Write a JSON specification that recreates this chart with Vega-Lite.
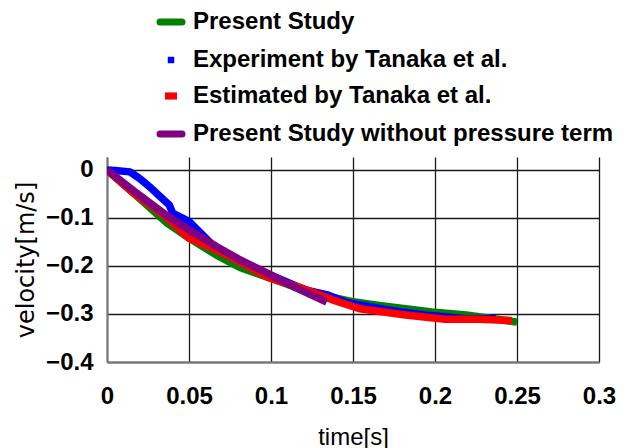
{
  "$schema": "https://vega.github.io/schema/vega-lite/v6.json",
  "width": 492,
  "height": 205,
  "autosize": "none",
  "padding": {"left": 107, "top": 157, "right": 31, "bottom": 86},
  "background": "white",
  "data": {
    "values": [
      {"series": "Present Study", "t": 0, "v": 0},
      {"series": "Present Study", "t": 0.016, "v": -0.048},
      {"series": "Present Study", "t": 0.036, "v": -0.109},
      {"series": "Present Study", "t": 0.05, "v": -0.142},
      {"series": "Present Study", "t": 0.067, "v": -0.178},
      {"series": "Present Study", "t": 0.081, "v": -0.203},
      {"series": "Present Study", "t": 0.1, "v": -0.226},
      {"series": "Present Study", "t": 0.117, "v": -0.247},
      {"series": "Present Study", "t": 0.137, "v": -0.265},
      {"series": "Present Study", "t": 0.149, "v": -0.274},
      {"series": "Present Study", "t": 0.166, "v": -0.282},
      {"series": "Present Study", "t": 0.198, "v": -0.296},
      {"series": "Present Study", "t": 0.219, "v": -0.302},
      {"series": "Present Study", "t": 0.25, "v": -0.317},
      {"series": "Experiment  by Tanaka et al.", "t": 0, "v": 0},
      {"series": "Experiment  by Tanaka et al.", "t": 0.005, "v": -0.001},
      {"series": "Experiment  by Tanaka et al.", "t": 0.014, "v": -0.004},
      {"series": "Experiment  by Tanaka et al.", "t": 0.02, "v": -0.018},
      {"series": "Experiment  by Tanaka et al.", "t": 0.026, "v": -0.035},
      {"series": "Experiment  by Tanaka et al.", "t": 0.032, "v": -0.054},
      {"series": "Experiment  by Tanaka et al.", "t": 0.038, "v": -0.073},
      {"series": "Experiment  by Tanaka et al.", "t": 0.04, "v": -0.09},
      {"series": "Experiment  by Tanaka et al.", "t": 0.05, "v": -0.107},
      {"series": "Experiment  by Tanaka et al.", "t": 0.067, "v": -0.165},
      {"series": "Experiment  by Tanaka et al.", "t": 0.081, "v": -0.19},
      {"series": "Experiment  by Tanaka et al.", "t": 0.1, "v": -0.219},
      {"series": "Experiment  by Tanaka et al.", "t": 0.121, "v": -0.25},
      {"series": "Experiment  by Tanaka et al.", "t": 0.135, "v": -0.261},
      {"series": "Experiment  by Tanaka et al.", "t": 0.146, "v": -0.276},
      {"series": "Experiment  by Tanaka et al.", "t": 0.172, "v": -0.292},
      {"series": "Experiment  by Tanaka et al.", "t": 0.194, "v": -0.302},
      {"series": "Experiment  by Tanaka et al.", "t": 0.219, "v": -0.31},
      {"series": "Experiment  by Tanaka et al.", "t": 0.237, "v": -0.31},
      {"series": "Estimated by Tanaka et al.", "t": 0, "v": 0},
      {"series": "Estimated by Tanaka et al.", "t": 0.016, "v": -0.048},
      {"series": "Estimated by Tanaka et al.", "t": 0.028, "v": -0.077},
      {"series": "Estimated by Tanaka et al.", "t": 0.038, "v": -0.104},
      {"series": "Estimated by Tanaka et al.", "t": 0.05, "v": -0.142},
      {"series": "Estimated by Tanaka et al.", "t": 0.067, "v": -0.167},
      {"series": "Estimated by Tanaka et al.", "t": 0.079, "v": -0.188},
      {"series": "Estimated by Tanaka et al.", "t": 0.099, "v": -0.225},
      {"series": "Estimated by Tanaka et al.", "t": 0.117, "v": -0.244},
      {"series": "Estimated by Tanaka et al.", "t": 0.137, "v": -0.27},
      {"series": "Estimated by Tanaka et al.", "t": 0.154, "v": -0.289},
      {"series": "Estimated by Tanaka et al.", "t": 0.182, "v": -0.302},
      {"series": "Estimated by Tanaka et al.", "t": 0.206, "v": -0.311},
      {"series": "Estimated by Tanaka et al.", "t": 0.227, "v": -0.311},
      {"series": "Estimated by Tanaka et al.", "t": 0.247, "v": -0.314},
      {"series": "Present Study without pressure term", "t": 0, "v": 0},
      {"series": "Present Study without pressure term", "t": 0.018, "v": -0.048},
      {"series": "Present Study without pressure term", "t": 0.036, "v": -0.094},
      {"series": "Present Study without pressure term", "t": 0.05, "v": -0.125},
      {"series": "Present Study without pressure term", "t": 0.067, "v": -0.16},
      {"series": "Present Study without pressure term", "t": 0.08, "v": -0.185},
      {"series": "Present Study without pressure term", "t": 0.097, "v": -0.214},
      {"series": "Present Study without pressure term", "t": 0.115, "v": -0.245},
      {"series": "Present Study without pressure term", "t": 0.134, "v": -0.275}
    ]
  },
  "mark": {"type": "line", "strokeWidth": 7.5, "strokeCap": "butt", "strokeJoin": "round", "clip": true},
  "encoding": {
    "x": {
      "field": "t", "type": "quantitative",
      "scale": {"domain": [0, 0.3], "nice": false, "zero": false},
      "axis": {
        "title": "time[s]", "values": [0, 0.05, 0.1, 0.15, 0.2, 0.25, 0.3],
        "format": "~g", "grid": true, "gridColor": "#1a1a1a", "gridWidth": 1.3,
        "domainColor": "#777", "domainWidth": 2, "ticks": false, "labelFlush": false,
        "labelPadding": 22, "labelFont": "Liberation Sans, sans-serif",
        "labelFontWeight": "bold", "labelFontSize": 24, "labelColor": "black",
        "titleFont": "Liberation Sans, sans-serif", "titleFontWeight": "normal",
        "titleFontSize": 24, "titleColor": "black", "titlePadding": 17
      }
    },
    "y": {
      "field": "v", "type": "quantitative",
      "scale": {"domain": [-0.4, 0.027], "nice": false, "zero": false},
      "axis": {
        "title": "velocity[m/s]", "values": [-0.4, -0.3, -0.2, -0.1, 0],
        "format": "~g", "grid": true, "gridColor": "#1a1a1a", "gridWidth": 1.3,
        "domainColor": "#777", "domainWidth": 2, "ticks": false, "labelFlush": false,
        "labelPadding": 14, "labelFont": "Liberation Sans, sans-serif",
        "labelFontWeight": "bold", "labelFontSize": 24, "labelColor": "black",
        "titleFont": "DejaVu Sans, sans-serif", "titleFontWeight": "normal",
        "titleFontSize": 24, "titleColor": "black", "titlePadding": 7
      }
    },
    "color": {
      "field": "series", "type": "nominal",
      "scale": {
        "domain": ["Present Study", "Experiment  by Tanaka et al.", "Estimated by Tanaka et al.", "Present Study without pressure term"],
        "range": ["#008000", "#0000ff", "#ff0000", "#800080"]
      },
      "legend": {
        "title": null, "orient": "none", "legendX": 52, "legendY": -147,
        "padding": 0, "rowPadding": 12, "labelOffset": 10,
        "labelFont": "Liberation Sans, sans-serif", "labelFontSize": 24, "labelFontWeight": "bold",
        "labelColor": "black", "labelLimit": 600, "symbolType": "stroke", "symbolSize": 484,
        "encode": {
          "symbols": {
            "update": {
              "shape": {"signal": "datum.value == 'Present Study' || datum.value == 'Present Study without pressure term' ? 'stroke' : (datum.value == 'Estimated by Tanaka et al.' ? 'M-1,-0.6H1V0.6H-1Z' : 'square')"},
              "size": {"signal": "datum.value == 'Present Study' || datum.value == 'Present Study without pressure term' ? 484 : (datum.value == 'Estimated by Tanaka et al.' ? 144 : 42)"},
              "strokeWidth": {"signal": "datum.value == 'Present Study' || datum.value == 'Present Study without pressure term' ? 7 : 0"},
              "strokeCap": {"value": "round"},
              "fill": {"signal": "scale('color', datum.value)"},
              "stroke": {"signal": "scale('color', datum.value)"}
            }
          }
        }
      }
    },
    "order": {"field": "t", "type": "quantitative"}
  },
  "config": {"view": {"stroke": null}}
}
